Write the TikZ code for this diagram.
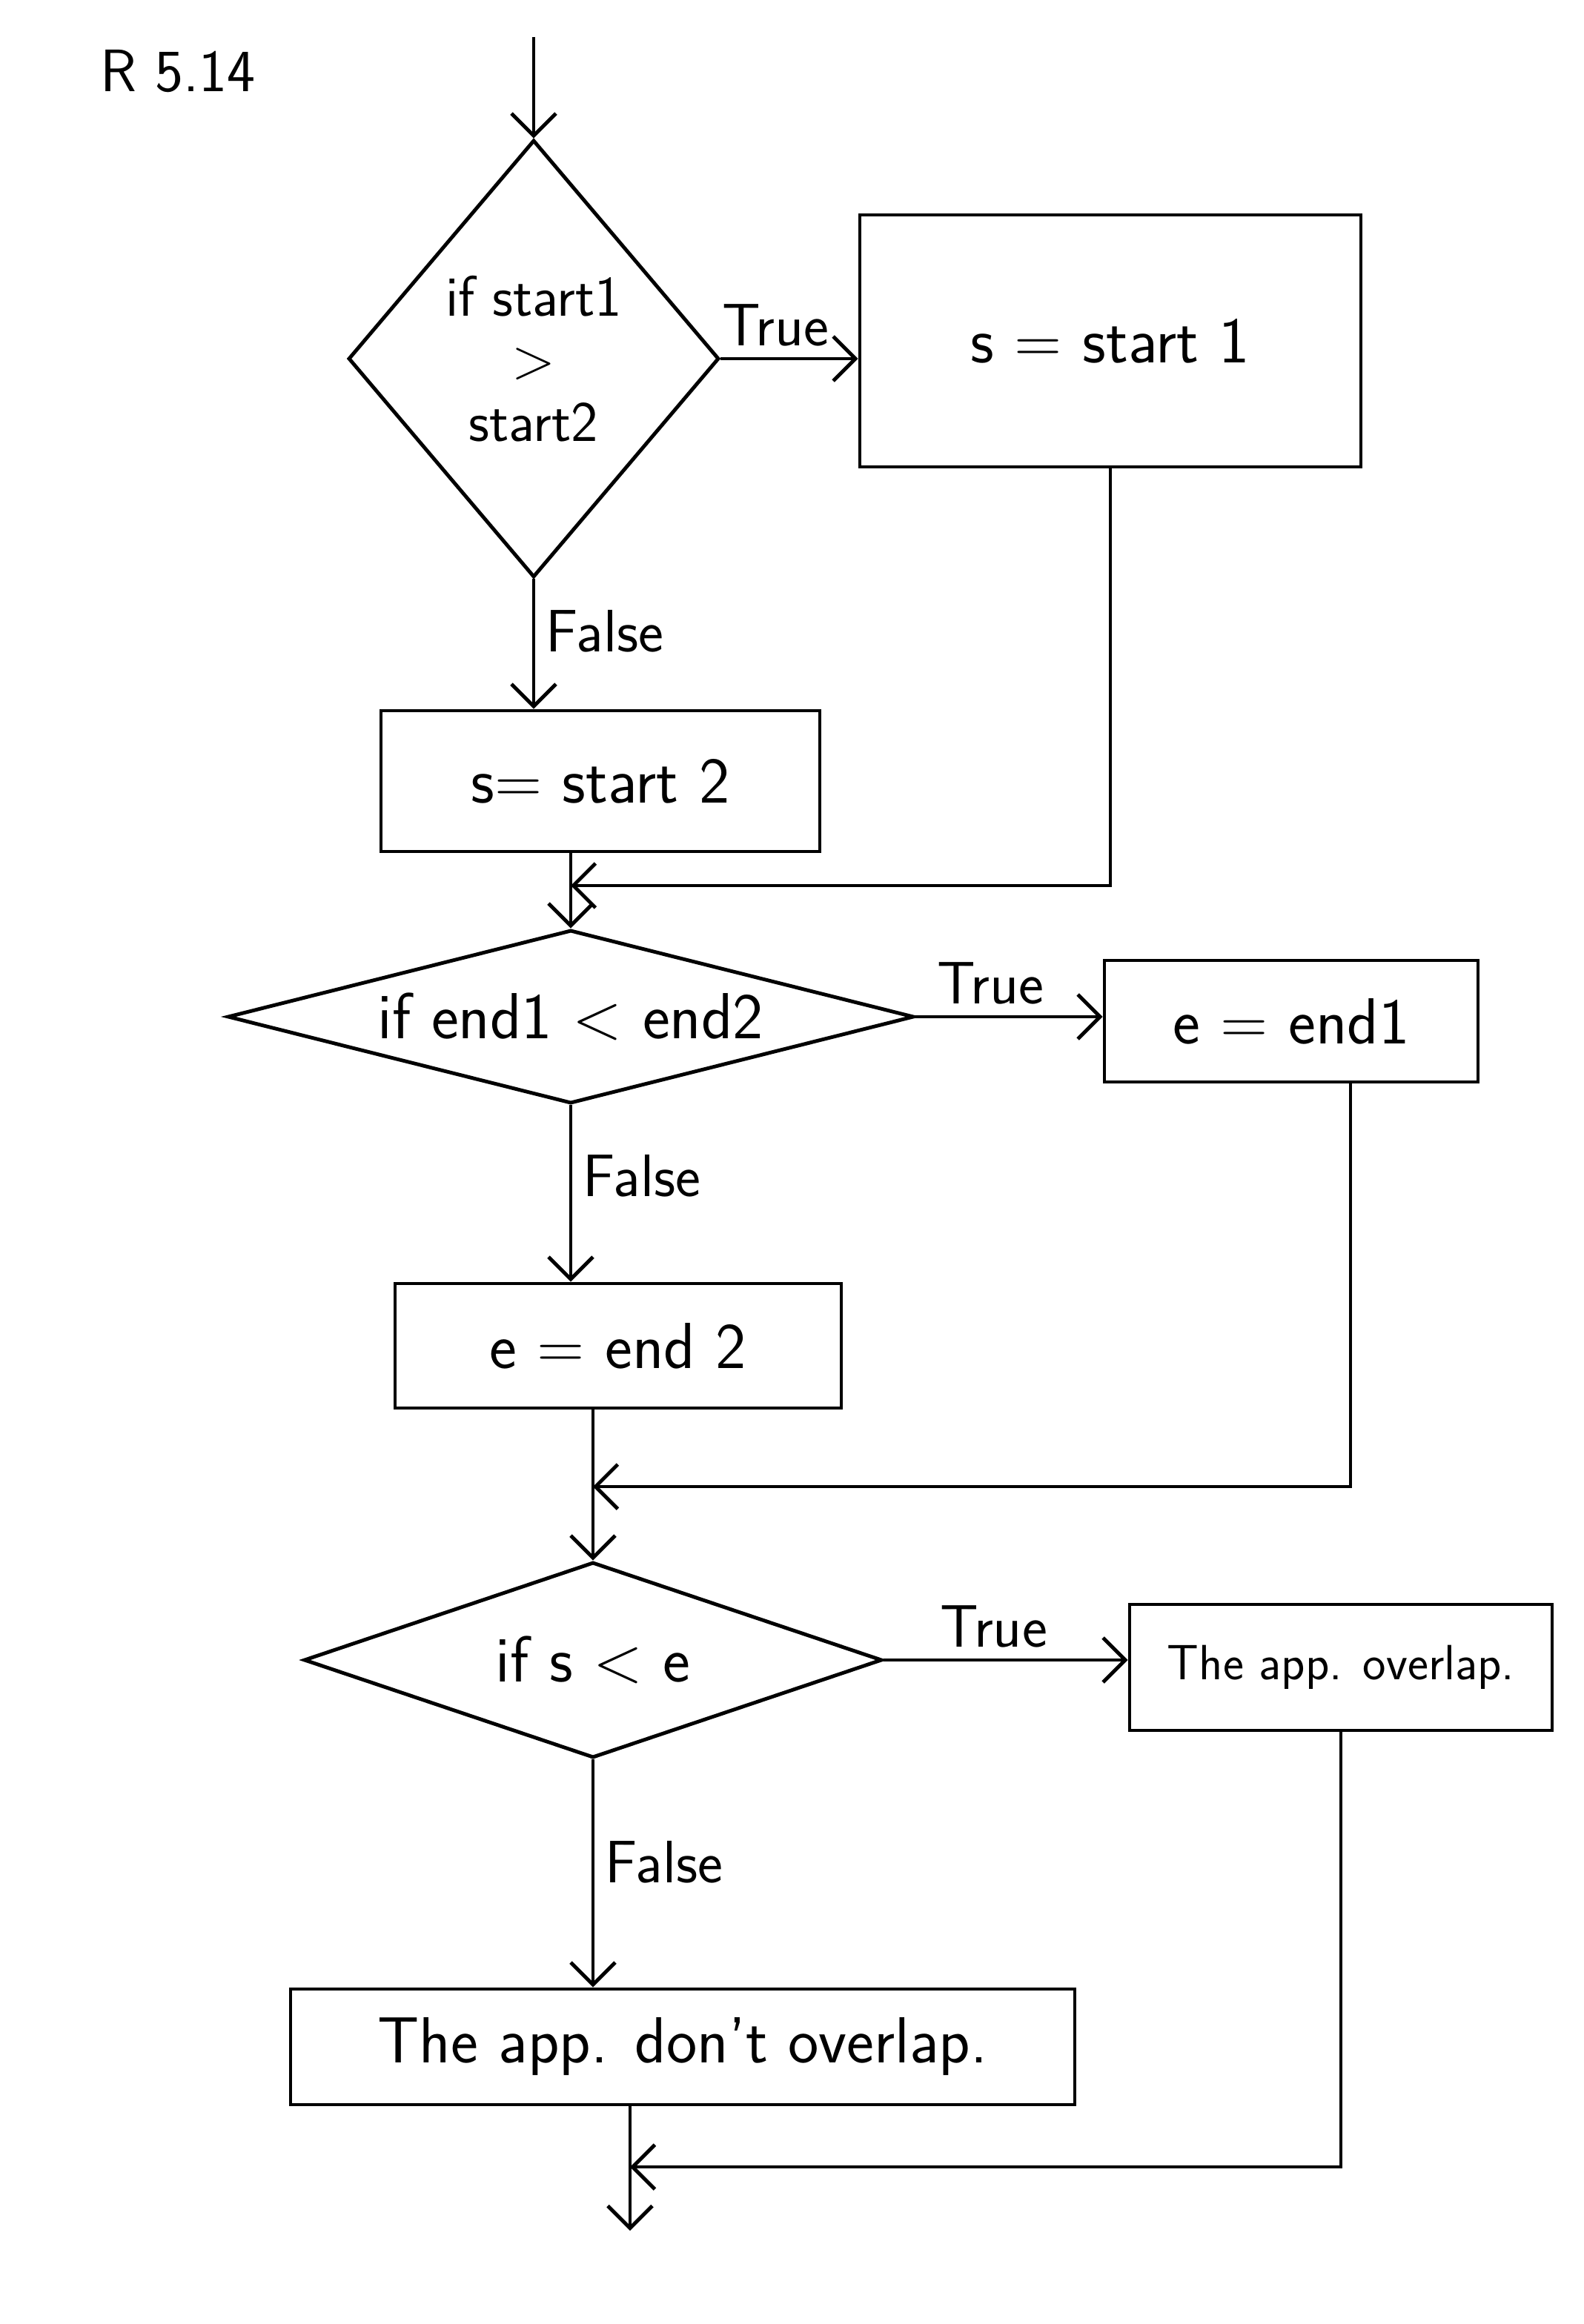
\documentclass[tikz,border=0pt]{standalone}
\usetikzlibrary{arrows.meta,shapes.geometric,calc}

\begin{document}
\begin{tikzpicture}[
  font=\sffamily\fontsize{25}{30}\selectfont,
  line width=1.4pt,
  procbox/.style={draw, inner sep=4pt, align=center},
  decision/.style={draw, diamond, aspect=1, inner sep=0pt, align=center},
  arr/.style={-{Straight Barb[length=3mm,width=6mm]}},
  lbl/.style={font=\sffamily\fontsize{23}{27}\selectfont, inner sep=4pt}
]
\useasboundingbox (0,0) rectangle (21.36,-31.36);
\node[lbl] (title) at (2.4,-0.96) {R 5.14};
% first decision
\coordinate (entry) at (7.2,-0.5);
\node[decision, minimum width=5cm, minimum height=5.9cm,
  font=\sffamily\fontsize{22}{24}\selectfont] (d1) at (7.2,-4.84) {if start1\\>\\start2};
\node[procbox, minimum width=6.76cm, minimum height=3.4cm] (b1) at (14.98,-4.6) {s = start 1};
\node[procbox, minimum width=5.92cm, minimum height=1.9cm] (b2) at (8.1,-10.54) {s= start 2};
\draw[arr] (entry) -- (d1.north);
\draw[arr] (d1.east) -- node[lbl, above, pos=0.4] {True} (d1.east -| b1.west);
\draw[arr] (d1.south) -- node[lbl, right, pos=0.4] {False} (d1.south |- b2.north);
% second decision
\node[decision, aspect=4, minimum width=9.26cm, minimum height=2.34cm] (d2) at (7.7,-13.72) {if end1 < end2};
\node[procbox, minimum width=5.04cm, minimum height=1.64cm] (b3) at (17.42,-13.78) {e = end1};
\node[procbox, minimum width=6.02cm, minimum height=1.68cm] (b4) at (8.34,-18.16) {e = end 2};
\coordinate (m1) at (7.7,-11.95);
\draw[arr] (b2.south -| d2.north) -- (d2.north);
\draw[arr] (b1.south) |- (m1);
\draw[arr] (d2.east) -- node[lbl, above, pos=0.4] {True} (d2.east -| b3.west);
\draw[arr] (d2.south) -- node[lbl, right, pos=0.4] {False} (d2.south |- b4.north);
% third decision
\node[decision, aspect=3, minimum width=7.8cm, minimum height=2.64cm] (d3) at (8.0,-22.4) {if s < e};
\node[procbox, minimum width=5.7cm, minimum height=1.7cm,
  font=\sffamily\fontsize{19}{23}\selectfont] (b5) at (18.09,-22.5) {The app. overlap.};
\node[procbox, minimum width=10.58cm, minimum height=1.56cm] (b6) at (9.21,-27.62) {The app. don't overlap.};
\coordinate (m2) at (8.0,-20.06);
\draw[arr] (b4.south -| d3.north) -- (d3.north);
\draw[arr] ([xshift=0.8cm]b3.south) |- (m2);
\draw[arr] (d3.east) -- node[lbl, above, pos=0.45] {True} (d3.east -| b5.west);
\draw[arr] (d3.south) -- node[lbl, right, pos=0.45] {False} (d3.south |- b6.north);
% exit
\coordinate (exit) at (8.5,-30.1);
\coordinate (m3) at (8.5,-29.24);
\draw[arr] (b6.south -| exit) -- (exit);
\draw[arr] (b5.south) |- (m3);
\end{tikzpicture}
\end{document}
